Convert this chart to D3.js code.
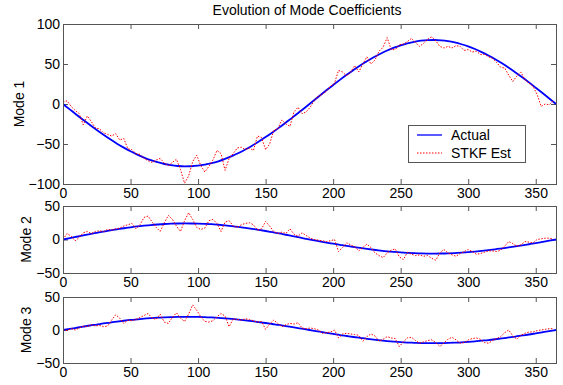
<!DOCTYPE html>
<html>
<head>
<meta charset="utf-8">
<script src="https://cdn.jsdelivr.net/npm/d3@7"></script>
<style>
  body { margin: 0; background: #fff; }
  svg text { font-family: Arial, "Liberation Sans", Helvetica, sans-serif; font-size: 14px; fill: #000; }
</style>
</head>
<body>
<script>
const width = 563;
const height = 385;
const plotLeft = 63;
const plotRight = 556;
const tickLen = 5;
const axisColor = "#555";

const titleText = "Evolution of Mode Coefficients";
const xTicks = [0, 50, 100, 150, 200, 250, 300, 350];
const legendLabels = ["Actual", "STKF Est"];
const actualDays = d3.range(0, 366, 5); // 0..365
const estDays = d3.range(0, 364, 3);    // 0..363

// Mode 1
const mode1Actual = [
  0, -6.7, -13.4, -19.9, -26.3, -32.5, -38.5, -44.2, -49.6, -54.5, -59.1, -63.3, -67.0, -70.2, -72.8, -75.0, -76.5, -77.5, -78.0,
  -77.8, -77.1, -75.8, -74.0, -71.6, -68.6, -65.2, -61.3, -56.9, -52.1, -46.9, -41.4, -35.6, -29.5, -23.1, -16.7, -10.0, -3.4,
  3.4, 10.3, 17.1, 23.7, 30.2, 36.5, 42.4, 48.1, 53.5, 58.4, 62.8, 66.9, 70.4, 73.4, 75.9, 77.8, 79.1, 79.8, 80.0,
  79.5, 78.5, 76.9, 74.7, 72.0, 68.7, 64.9, 60.6, 55.9, 50.8, 45.3, 39.5, 33.4, 27.0, 20.4, 13.7, 6.9, 0
];
const mode1Est = [
  2, 4, -3, -8, -12, -26, -15, -22, -30, -31,
  -36, -38, -40, -37, -45, -43, -56, -57, -62, -63,
  -68, -71, -73, -70, -68, -74, -77, -73, -69, -82,
  -99, -90, -72, -64, -77, -85, -78, -70, -58, -62,
  -83, -68, -62, -55, -54, -57, -55, -58, -40, -42,
  -57, -50, -33, -31, -20, -25, -28, -10, -4, -12,
  -10, -4, 4, 10, 12, 16, 22, 26, 42, 40,
  35, 40, 48, 40, 50, 59, 50, 55, 66, 71,
  83, 68, 68, 74, 75, 78, 82, 77, 72, 76,
  81, 84, 79, 72, 70, 72, 70, 73, 72, 67,
  68, 65, 66, 62, 62, 59, 57, 52, 46, 45,
  36, 28, 35, 40, 30, 26, 22, 12, -3, 0,
  -1, 4
];

// Mode 2
const mode2Actual = [
  0, 2.1, 4.1, 6.1, 8.1, 10.0, 11.9, 13.6, 15.2, 16.8, 18.2, 19.5, 20.6, 21.6, 22.4, 23.1, 23.6, 23.9, 24.0,
  23.9, 23.7, 23.3, 22.8, 22.0, 21.1, 20.1, 18.9, 17.5, 16.0, 14.4, 12.7, 10.9, 9.1, 7.1, 5.1, 3.1, 1.0,
  -0.9, -2.7, -4.5, -6.2, -7.9, -9.6, -11.1, -12.6, -14.0, -15.3, -16.5, -17.6, -18.5, -19.3, -19.9, -20.4, -20.8, -21.0, -21.0,
  -20.9, -20.6, -20.2, -19.6, -18.9, -18.0, -17.0, -15.9, -14.7, -13.3, -11.9, -10.4, -8.8, -7.1, -5.4, -3.6, -1.8, 0
];
const mode2Est = [
  0, 9, 5, -2, 3, 10, 12, 9, 12, 13,
  12, 15, 14, 16, 17, 20, 22, 24, 16, 22,
  33, 35, 26, 18, 12, 25, 36, 30, 20, 12,
  28, 40, 30, 18, 15, 17, 28, 30, 24, 12,
  26, 28, 20, 18, 22, 24, 25, 22, 14, 16,
  27, 20, 12, 9, 11, 9, 16, 8, 5, 10,
  6, 2, 0, -1, -2, -3, -2, 0, -18, -12,
  -5, -8, -11, -17, -12, -7, -12, -20, -24, -27,
  -20, -16, -14, -26, -30, -19, -22, -24, -23, -25,
  -24, -28, -31, -20, -15, -20, -23, -25, -21, -18,
  -15, -18, -22, -21, -19, -17, -17, -18, -16, -10,
  -3, -6, -10, -8, -3, -4, -5, 0, 1, 2,
  2, 1
];

// Mode 3
const mode3Actual = [
  0, 1.7, 3.4, 5.1, 6.8, 8.3, 9.9, 11.3, 12.7, 14.0, 15.2, 16.2, 17.2, 18.0, 18.7, 19.2, 19.6, 19.9, 20.0,
  20.0, 19.8, 19.4, 19.0, 18.4, 17.6, 16.7, 15.7, 14.6, 13.4, 12.0, 10.6, 9.1, 7.6, 5.9, 4.3, 2.6, 0.9,
  -0.9, -2.6, -4.3, -5.9, -7.6, -9.1, -10.6, -12.0, -13.4, -14.6, -15.7, -16.7, -17.6, -18.4, -19.0, -19.4, -19.8, -20.0, -20.0,
  -19.9, -19.6, -19.2, -18.7, -18.0, -17.2, -16.2, -15.2, -14.0, -12.7, -11.3, -9.9, -8.3, -6.8, -5.1, -3.4, -1.7, 0
];
const mode3Est = [
  1, -1, 2, 0, 3, 6, 5, 8, 6, 7,
  5, 6, 15, 23, 18, 10, 15, 14, 16, 19,
  22, 25, 18, 16, 24, 12, 10, 19, 26, 18,
  13, 24, 38, 30, 20, 13, 12, 14, 20, 25,
  21, 5, 17, 16, 15, 17, 16, 14, 12, 13,
  1, 9, 15, 10, 5, 8, 10, 9, 11, 3,
  2, 3, 2, 0, -5, -4, -3, 0, -12, -6,
  -5, -6, -7, -8, -17, -10, -6, -9, -17, -14,
  -10, -12, -13, -25, -18, -12, -11, -16, -20, -18,
  -16, -15, -19, -25, -20, -14, -11, -15, -20, -19,
  -15, -13, -12, -14, -19, -20, -16, -13, -10, -4,
  0, -9, -14, -8, -5, -3, -3, -1, 0, 1,
  2, 2
];

const panels = [
  { id: 1, label: "Mode 1", labelX: 24, top: 24, bottom: 184, yDomain: [-100, 100], yTicks: [-100, -50, 0, 50, 100], actual: mode1Actual, est: mode1Est, legend: true },
  { id: 2, label: "Mode 2", labelX: 31, top: 206, bottom: 273, yDomain: [-50, 50], yTicks: [-50, 0, 50], actual: mode2Actual, est: mode2Est },
  { id: 3, label: "Mode 3", labelX: 31, top: 297, bottom: 363, yDomain: [-50, 50], yTicks: [-50, 0, 50], actual: mode3Actual, est: mode3Est }
];

const svg = d3.select("body").append("svg")
  .attr("width", width)
  .attr("height", height);

svg.append("rect").attr("width", width).attr("height", height).attr("fill", "#fff");

svg.append("text")
  .attr("x", 307)
  .attr("y", 15)
  .attr("text-anchor", "middle")
  .attr("font-size", 14.5)
  .text(titleText);

function drawPanel(p) {
  const x = d3.scaleLinear().domain([0, 365]).range([plotLeft, plotRight]);
  const y = d3.scaleLinear().domain(p.yDomain).range([p.bottom, p.top]);
  const g = svg.append("g").attr("class", "panel" + p.id);

  g.append("clipPath").attr("id", "clip" + p.id)
    .append("rect")
    .attr("x", plotLeft).attr("y", p.top)
    .attr("width", plotRight - plotLeft).attr("height", p.bottom - p.top);

  // axes, ticks pointing inward (matlab box style)
  const bottom = g.append("g").attr("transform", `translate(0,${p.bottom})`)
    .call(d3.axisBottom(x).tickValues(xTicks).tickSizeInner(-tickLen).tickSizeOuter(0).tickPadding(4));
  const top = g.append("g").attr("transform", `translate(0,${p.top})`)
    .call(d3.axisTop(x).tickValues(xTicks).tickSizeInner(-tickLen).tickSizeOuter(0).tickFormat(""));
  const left = g.append("g").attr("transform", `translate(${plotLeft},0)`)
    .call(d3.axisLeft(y).tickValues(p.yTicks).tickSizeInner(-tickLen).tickSizeOuter(0).tickPadding(3));
  const right = g.append("g").attr("transform", `translate(${plotRight},0)`)
    .call(d3.axisRight(y).tickValues(p.yTicks).tickSizeInner(-tickLen).tickSizeOuter(0).tickFormat(""));

  [bottom, top, left, right].forEach((a) => {
    a.select(".domain").remove();
    a.selectAll("line").attr("stroke", axisColor);
    a.selectAll("text").attr("font-size", 14).attr("font-family", "Arial, 'Liberation Sans', sans-serif").attr("fill", "#000");
  });

  const lines = g.append("g").attr("clip-path", `url(#clip${p.id})`);

  const actualLine = d3.line().x((d, i) => x(actualDays[i])).y((d) => y(d)).curve(d3.curveMonotoneX);
  const estLine = d3.line().x((d, i) => x(estDays[i])).y((d) => y(d));

  lines.append("path")
    .attr("d", actualLine(p.actual))
    .attr("fill", "none")
    .attr("stroke", "#0000ff")
    .attr("stroke-width", 1.8);

  lines.append("path")
    .attr("d", estLine(p.est))
    .attr("fill", "none")
    .attr("stroke", "#ff0000")
    .attr("stroke-width", 1)
    .attr("stroke-dasharray", "1.5,1.5");

  // box
  g.append("rect")
    .attr("x", plotLeft + 0.5).attr("y", p.top + 0.5)
    .attr("width", plotRight - plotLeft).attr("height", p.bottom - p.top)
    .attr("fill", "none")
    .attr("stroke", axisColor)
    .attr("stroke-width", 1);

  // y label
  g.append("text")
    .attr("transform", `translate(${p.labelX},${(p.top + p.bottom) / 2}) rotate(-90)`)
    .attr("text-anchor", "middle")
    .attr("font-size", 14)
    .text(p.label);

  if (p.legend) drawLegend(g);
}

function drawLegend(g) {
  const lx = 408.5, ly = 125.5, lw = 117, lh = 37;
  g.append("rect")
    .attr("x", lx).attr("y", ly).attr("width", lw).attr("height", lh)
    .attr("fill", "#fff").attr("stroke", axisColor).attr("stroke-width", 1);

  const styles = [
    { stroke: "#0000ff", width: 1.3, dash: null },
    { stroke: "#ff0000", width: 1, dash: "1.5,1.5" }
  ];
  legendLabels.forEach((name, i) => {
    const yy = 135 + i * 18;
    g.append("line")
      .attr("x1", 417).attr("x2", 442)
      .attr("y1", yy).attr("y2", yy)
      .attr("stroke", styles[i].stroke)
      .attr("stroke-width", styles[i].width)
      .attr("stroke-dasharray", styles[i].dash);
    g.append("text")
      .attr("x", 451).attr("y", yy)
      .attr("dy", "0.36em")
      .attr("font-size", 14)
      .text(name);
  });
}

panels.forEach(drawPanel);
</script>
</body>
</html>
